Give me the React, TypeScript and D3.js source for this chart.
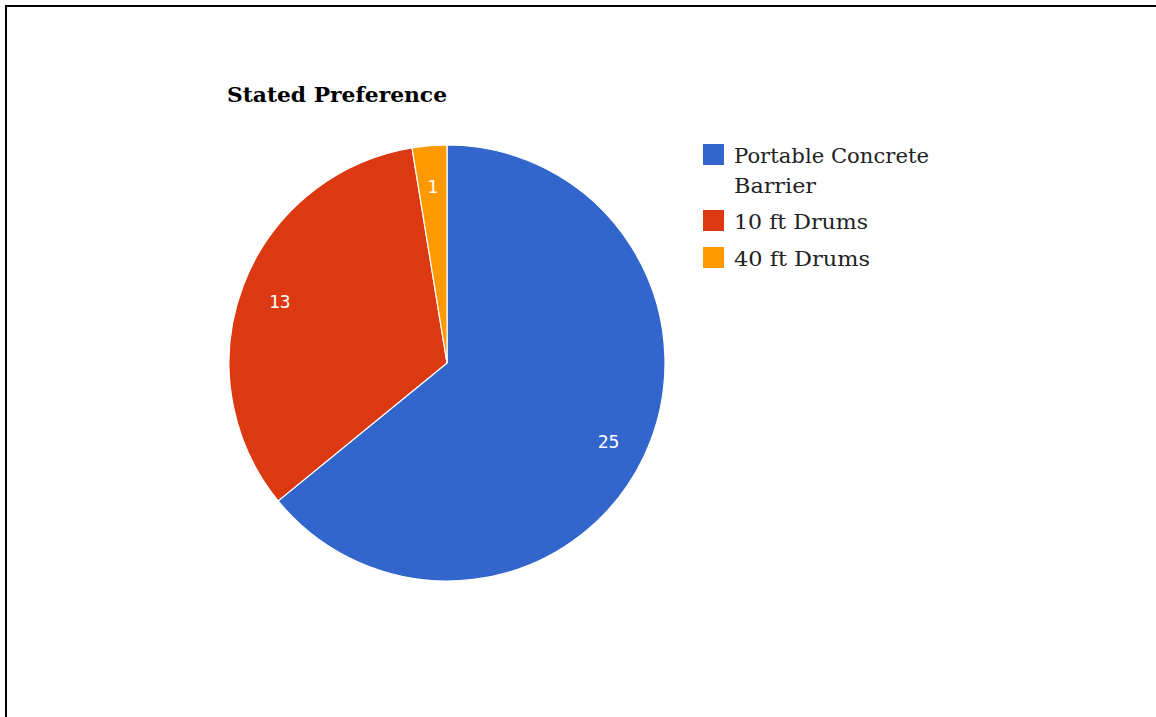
import React from "react";
import * as d3 from "d3";

const categories = ["Portable Concrete Barrier", "10 ft Drums", "40 ft Drums"];
const values = [25, 13, 1];
const colors = ["#3366cc", "#dc3912", "#ff9900"];
const legendLines = [["Portable Concrete", "Barrier"], ["10 ft Drums"], ["40 ft Drums"]];
const legendWidths = [[195, 82], [134], [136]];
const title = "Stated Preference";

const W = 1156;
const H = 717;
const cx = 447;
const cy = 363;
const R = 218;
const FONT = "'DejaVu Serif', serif";

export default function App() {
  const pie = d3.pie<number>().sort(null).value((d) => d);
  const arcs = pie(values);
  const arc = d3.arc<d3.PieArcDatum<number>>().innerRadius(0).outerRadius(R);
  const labelArc = d3.arc<d3.PieArcDatum<number>>().innerRadius(R * 0.82).outerRadius(R * 0.82);

  const legendY = [144, 210, 247];
  return (
    <svg width={W} height={H} style={{ position: "absolute", left: 0, top: 0, background: "#fff" }}>
      <rect x={0} y={0} width={W} height={H} fill="#fff" />
      <line x1={5} x2={W} y1={6} y2={6} stroke="#000" strokeWidth={2} />
      <line x1={6} x2={6} y1={5} y2={H} stroke="#000" strokeWidth={2} />
      <text x={227} y={102} fontFamily={FONT} fontWeight="bold" fontSize={21} fill="#000" textLength={220} lengthAdjust="spacingAndGlyphs">
        {title}
      </text>
      <g transform={`translate(${cx},${cy})`}>
        {arcs.map((a, i) => (
          <path key={i} d={arc(a) || ""} fill={colors[i]} stroke="#fff" strokeWidth={1.2} />
        ))}
        {arcs.map((a, i) => {
          const [x, y] = labelArc.centroid(a);
          return (
            <text key={"l" + i} x={x} y={y + 2} dy="0.35em" textAnchor="middle" fontFamily="'DejaVu Sans Mono', monospace" fontSize={18} fill="#fff">
              {values[i]}
            </text>
          );
        })}
      </g>
      {categories.map((c, i) => (
        <g key={c}>
          <rect x={703} y={legendY[i]} width={21} height={21} fill={colors[i]} />
          {legendLines[i].map((t, j) => (
            <text key={j} x={734} y={legendY[i] + 19 + j * 30} fontFamily={FONT} fontSize={20} fill="#222" textLength={legendWidths[i][j]} lengthAdjust="spacingAndGlyphs">
              {t}
            </text>
          ))}
        </g>
      ))}
    </svg>
  );
}
